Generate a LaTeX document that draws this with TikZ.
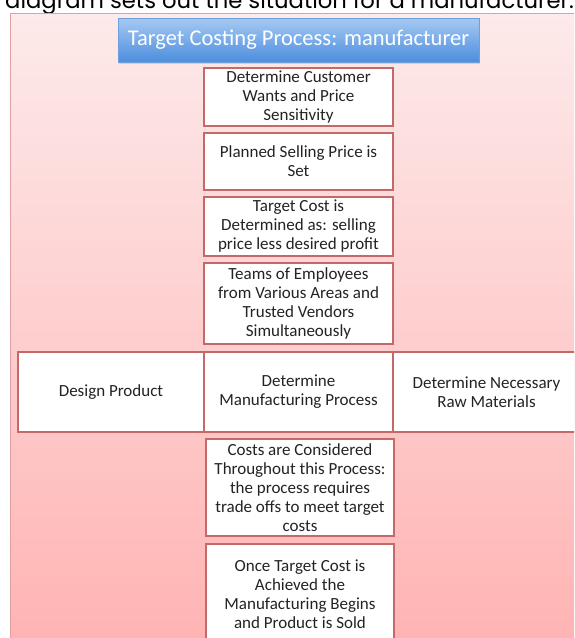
\documentclass[tikz,border=0pt]{standalone}
\usepackage{fontspec}
\setmainfont{Carlito}
\newfontfamily\headfont{Poppins}
\usetikzlibrary{shadows}

\definecolor{panelTop}{RGB}{253,234,234}
\definecolor{panelBot}{RGB}{255,178,178}
\definecolor{panelLine}{RGB}{222,160,160}
\definecolor{boxLine}{RGB}{196,104,104}
\definecolor{titleTop}{RGB}{166,201,243}
\definecolor{titleBot}{RGB}{76,142,221}
\definecolor{titleLine}{RGB}{110,160,220}
\definecolor{txt}{RGB}{35,35,35}

\begin{document}
\begin{tikzpicture}[x=1pt,y=-1pt,
  procbox/.style={draw=boxLine,line width=1.2pt,fill=white,minimum width=189,
    inner sep=1pt,align=center,text=txt,font=\fontsize{17}{19}\selectfont},
  titlebox/.style={draw=titleLine,top color=titleTop,bottom color=titleBot,
    minimum width=361,minimum height=44,text=white,
    drop shadow={opacity=0.25,shadow xshift=1pt,shadow yshift=-1.5pt},
    font=\fontsize{22.5}{26}\selectfont}]
\useasboundingbox (0,0) rectangle (574,638);
\clip (0,0) rectangle (574,638);
\fill[white] (0,0) rectangle (574,638);

% line of running text above the slide
\node (caption) at (5,8)[anchor=base west,inner sep=0,font=\headfont\fontsize{22.7}{26}\selectfont]
  {diagram sets out the situation for a manufacturer.};

% pink backdrop
\draw[draw=panelLine,top color=panelTop,bottom color=panelBot] (10,13) rectangle (600,660);

\node (title) at (298.5,40)[titlebox]{Target Costing Process: manufacturer};

\node (wants) at (298.5,97)[procbox,minimum height=58]{Determine Customer\\Wants and Price\\Sensitivity};
\node (price) at (298.5,161.5)[procbox,minimum height=57]{Planned Selling Price is\\Set};
\node (cost) at (298.5,226.5)[procbox,minimum height=59]{Target Cost is\\Determined as: selling\\price less desired profit};
\node (teams) at (298.5,303.5)[procbox,minimum height=81]{Teams of Employees\\from Various Areas and\\Trusted Vendors\\Simultaneously};

% three tasks side by side
\node (design) at (111,392)[procbox,minimum width=186,minimum height=80]{Design Product};
\node (mfg) at (298.5,392)[procbox,minimum height=80]{Determine\\Manufacturing Process};
\node (raw) at (486.5,392)[procbox,minimum width=187,minimum height=80]{Determine Necessary\\Raw Materials};

\node (tradeoff) at (300,487.5)[procbox,minimum width=188,minimum height=97]{Costs are Considered\\Throughout this Process:\\the process requires\\trade offs to meet target\\costs};
\node (sold) at (300,594)[procbox,minimum width=188,minimum height=100]{Once Target Cost is\\Achieved the\\Manufacturing Begins\\and Product is Sold};
\end{tikzpicture}
\end{document}
